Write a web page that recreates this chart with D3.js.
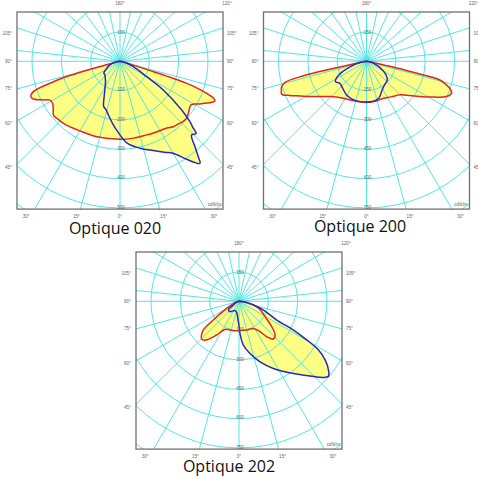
<!DOCTYPE html>
<html>
<head>
<meta charset="utf-8">
<script src="https://cdn.jsdelivr.net/npm/d3@7"></script>
<style>
  html, body { margin: 0; padding: 0; background: #fff; }
  svg { display: block; }
</style>
</head>
<body>
<div id="chart"></div>
<script>
// ---- data ----
// gamma in degrees from nadir (negative = left), intensity in cd/klm

// Optique 020
var red020Gamma = [-90,-85,-80,-77,-75.5,-74,-72.6,-70.7,-68.4,-66.5,-63,-61,-58,-54,-51,-48,-42,-30,-17,0,10,20,25,35,39,43,47,50,54,58.5,61.5,64.5,67.3,68.5,69.7,71,71.8,72.8,74,77,82,90];
var red020Cd    = [0,5,12,25,70,189,250,313,327,322,290,273,271,281,292,290,286,274,269,266,266,267,270,278,287,292,298,298,290,284,305,330,351,342,315,275,235,120,50,22,10,0];
var blue020Gamma = [-90,-80,-70,-60,-54,-47,-40,-36,-28,-24,-20,-16,-12,-6,-1,5,13,20.5,26,30,34.2,38.1,39.4,41.3,44.2,46.5,47.8,49.2,51.7,56.5,60,68,78,90];
var blue020Cd    = [0,15,38,55,68,70,78,84,110,133,163,172,188,218,245,280,304,325,345,362,404,442,420,387,350,358,335,315,268,177,105,49,15,0];

// Optique 200
var red200Gamma = [-90,-85,-80,-78,-77,-75.5,-73,-71.4,-68.8,-66,-62.5,-58,-53,-45,-35,-23,-12,0,12,24,35,45,50,56.5,62,66.2,69.4,72,74,75.7,76.5,77.2,78,80,85,90];
var red200Cd    = [0,8,30,120,330,430,455,459,466,430,384,340,299,255,228,215,210,211,209,208,222,242,270,327,390,447,465,448,420,387,300,200,100,35,8,0];
var blue200Gamma = [-90,-80,-71.6,-63.7,-56.7,-50.5,-43,-30.7,-15.6,0,10,18.4,28.7,35,40.8,46,50.6,55,59.2,66.6,75,82,90];
var blue200Cd    = [0,30,86,158,190,177,182,200,209,208,207,199,167,155,149,146,137,122,103,69,35,15,0];

// Optique 202
var red202Gamma = [-90,-75,-65,-60.4,-54,-51.2,-48,-44.7,-40.5,-33.6,-26.6,-11,0,15,28,34.7,38,42.3,46.9,52.2,59.5,66,73,82,90];
var red202Cd    = [0,15,45,73,163,235,258,272,261,207,161,153,150,152,157,189,230,261,253,212,155,125,95,40,0];
var blue202Gamma = [-90,-70,-57,-51,-41,-30,-23,-12,-7,-3,0,2,5.7,11.9,19.2,27.1,37,43.6,48,50.1,52.4,55.7,58.5,60.3,62.2,63.6,70.4,75.6,83,90];
var blue202Cd    = [0,18,35,70,70,56,52,58,71,95,125,170,225,273,328,386,463,528,582,597,578,534,477,400,315,216,133,76,30,0];

// ring values and labels
var rings020 = [100,200,300,400,500,600,700];
var rings2xx = [150,300,450,600,750,900,1050];
var ringLabels020 = [100,200,300,400,500];
var ringLabels2xx = [150,300,450,600,750];
var sideGamma = [105,90,75,60,45];
var sideLabels = ["105°","90°","75°","60°","45°"];
var bottomGamma = [-30,-15,0,15,30];
var bottomLabels = ["30°","15°","0°","15°","30°"];
var captions = ["Optique 020","Optique 200","Optique 202"];

// ---- layout ----
var width = 478, height = 479;
var panels = [
  {cx:120,   cy:61.3,  rings:rings020, labels:ringLabels020, step:100,
   red:[red020Gamma,red020Cd], blue:[blue020Gamma,blue020Cd], cap:captions[0], capX:115, capY:234},
  {cx:366.5, cy:61.3,  rings:rings2xx, labels:ringLabels2xx, step:150,
   red:[red200Gamma,red200Cd], blue:[blue200Gamma,blue200Cd], cap:captions[1], capX:360, capY:232},
  {cx:239,   cy:301.3, rings:rings2xx, labels:ringLabels2xx, step:150,
   red:[red202Gamma,red202Cd], blue:[blue202Gamma,blue202Cd], cap:captions[2], capX:229, capY:472}
];
var halfW = 103, boxTop = 49.3, boxBottom = 147.8, pxStep = 29.33;
var gridColor = "#3fe3e3", fillColor = "#ffff84";

var svg = d3.select("#chart").append("svg")
  .attr("width", width).attr("height", height);
svg.append("rect").attr("width", width).attr("height", height).attr("fill", "#fff");

var rad = Math.PI / 180;

function zip(g, v) {
  return g.map(function(d, i) { return [d, v[i]]; });
}

panels.forEach(function(p, k) {
  var r = d3.scaleLinear().domain([0, p.step]).range([0, pxStep]);

  var clipId = "clip" + k;
  svg.append("clipPath").attr("id", clipId)
    .append("rect")
      .attr("x", p.cx - halfW).attr("y", p.cy - boxTop)
      .attr("width", 2 * halfW).attr("height", boxTop + boxBottom);

  var g = svg.append("g").attr("clip-path", "url(#" + clipId + ")");
  var plot = g.append("g").attr("transform", "translate(" + p.cx + "," + p.cy + ")");

  var line = d3.lineRadial()
    .angle(function(d) { return Math.PI - d[0] * rad; })
    .radius(function(d) { return r(d[1]); })
    .curve(d3.curveCatmullRom.alpha(0.5));

  var curves = [zip(p.red[0], p.red[1]), zip(p.blue[0], p.blue[1])];

  // yellow fills
  plot.selectAll("path.fill")
    .data(curves)
    .enter()
    .append("path")
      .attr("class", "fill")
      .attr("d", function(d) { return line(d) + "Z"; })
      .attr("fill", fillColor)
      .attr("stroke", "none");

  // rings
  plot.selectAll("circle.ring")
    .data(p.rings)
    .enter()
    .append("circle")
      .attr("r", function(d) { return r(d); })
      .attr("fill", "none")
      .attr("stroke", gridColor)
      .attr("stroke-width", 0.9);

  // spokes: 15 deg below, 12 deg above
  var spokes = d3.range(-90, 91, 15).concat(d3.range(96, 265, 12));
  plot.selectAll("line.spoke")
    .data(spokes)
    .enter()
    .append("line")
      .attr("x1", 0).attr("y1", 0)
      .attr("x2", function(d) { return 400 * Math.sin(d * rad); })
      .attr("y2", function(d) { return 400 * Math.cos(d * rad); })
      .attr("stroke", gridColor)
      .attr("stroke-width", 0.9);

  // curve outlines
  plot.selectAll("path.outline")
    .data(curves)
    .enter()
    .append("path")
      .attr("d", function(d) { return line(d) + "Z"; })
      .attr("fill", "none")
      .attr("stroke", function(d, i) { return i == 0 ? "#e3261b" : "#2727c4"; })
      .attr("stroke-width", 1.5)
      .attr("stroke-linejoin", "round");

  // ring labels on the vertical axis
  var lab = svg.append("g")
    .attr("font-family", "Liberation Sans, Arial, sans-serif")
    .attr("font-size", 4.6)
    .attr("fill", "#666");

  lab.selectAll("text.rl")
    .data(p.labels)
    .enter()
    .append("text")
      .attr("x", p.cx + 1)
      .attr("y", function(d) { return p.cy + r(d) - 0.5; })
      .attr("text-anchor", "middle")
      .attr("dominant-baseline", "middle")
      .text(function(d) { return d; });
  lab.append("text")
    .attr("x", p.cx + 1).attr("y", p.cy - r(p.labels[0]) + 1)
    .attr("text-anchor", "middle").attr("dominant-baseline", "middle")
    .text(p.labels[0]);

  lab.append("text")
    .attr("x", p.cx + halfW - 2).attr("y", p.cy + boxBottom - 3)
    .attr("text-anchor", "end")
    .text("cd/klm");

  // angle labels round the box
  lab.append("text")
    .attr("x", p.cx).attr("y", p.cy - boxTop - 8)
    .attr("text-anchor", "middle").attr("dominant-baseline", "middle")
    .text("180°");
  lab.append("text")
    .attr("x", p.cx + halfW + 4).attr("y", p.cy - boxTop - 8)
    .attr("text-anchor", "middle").attr("dominant-baseline", "middle")
    .text("120°");

  sideGamma.forEach(function(a, i) {
    var y = p.cy + halfW * Math.cos(a * rad) / Math.sin(a * rad);
    y += (a < 70 ? 3 : 0);
    lab.append("text")
      .attr("x", p.cx - halfW - 5).attr("y", y)
      .attr("text-anchor", "end").attr("dominant-baseline", "middle")
      .text(sideLabels[i]);
    lab.append("text")
      .attr("x", p.cx + halfW + 4).attr("y", y)
      .attr("text-anchor", "start").attr("dominant-baseline", "middle")
      .text(sideLabels[i]);
  });

  bottomGamma.forEach(function(a, i) {
    lab.append("text")
      .attr("x", p.cx + boxBottom * Math.tan(a * rad) * 1.1)
      .attr("y", p.cy + boxBottom + 8)
      .attr("text-anchor", "middle").attr("dominant-baseline", "middle")
      .text(bottomLabels[i]);
  });

  // frame
  svg.append("rect")
    .attr("x", p.cx - halfW).attr("y", p.cy - boxTop)
    .attr("width", 2 * halfW).attr("height", boxTop + boxBottom)
    .attr("fill", "none")
    .attr("stroke", "#707070")
    .attr("stroke-width", 1.3);

  // caption
  svg.append("text")
    .attr("x", p.capX).attr("y", p.capY)
    .attr("text-anchor", "middle")
    .attr("font-family", "Open Sans, sans-serif")
    .attr("font-size", 16)
    .attr("fill", "#111")
    .text(p.cap);
});
</script>
</body>
</html>
